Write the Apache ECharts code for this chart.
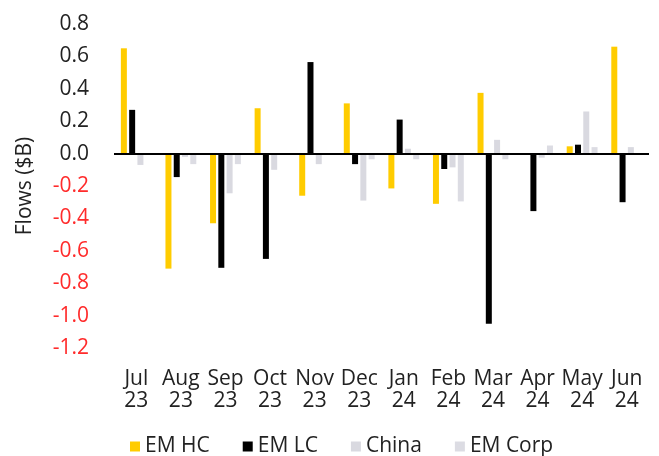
<!DOCTYPE html>
<html lang="en">
<head>
    <meta charset="UTF-8">
    <script src="https://cdn.jsdelivr.net/npm/echarts@6.0.0/dist/echarts.min.js"></script>
    <style type="text/css">
        html, body { margin: 0; padding: 0; background: #fff; }
        #chart { width: 659px; height: 456px; }
    </style>
    <title>Flows</title>
</head>
<body>
    <div id="chart"></div>
    <script>
        // months on the x axis
        var months = ['Jul\n23', 'Aug\n23', 'Sep\n23', 'Oct\n23', 'Nov\n23', 'Dec\n23',
                      'Jan\n24', 'Feb\n24', 'Mar\n24', 'Apr\n24', 'May\n24', 'Jun\n24'];

        // flows in $B
        var emHC   = [0.65, -0.71, -0.43, 0.28, -0.26, 0.31, -0.215, -0.31, 0.375, 0, 0.045, 0.66];
        var emLC   = [0.27, -0.145, -0.705, -0.65, 0.565, -0.065, 0.21, -0.095, -1.05, -0.355, 0.055, -0.30];
        var china  = [-0.07, -0.02, -0.245, -0.10, -0.065, -0.29, 0.03, -0.085, 0.085, -0.025, 0.26, 0.04];
        var emCorp = [0, -0.065, -0.065, 0, 0, -0.035, -0.035, -0.295, -0.035, 0.05, 0.04, 0];

        var font = 'Open Sans';
        var chart = echarts.init(document.getElementById('chart'));

        function bar(name, data, color) {
            return {
                name: name,
                type: 'bar',
                data: data,
                barWidth: 6,
                barGap: '38%',
                itemStyle: { color: color },
                animation: false
            };
        }

        var series = [
            bar('EM HC', emHC, '#ffcc00'),
            bar('EM LC', emLC, '#000000'),
            bar('China', china, '#d9d9e0'),
            bar('EM Corp', emCorp, '#dcdce3')
        ];
        // zero line across the plot
        series[0].markLine = {
            silent: true,
            symbol: 'none',
            label: { show: false },
            lineStyle: { color: '#000', width: 2, type: 'solid' },
            data: [{ yAxis: 0 }]
        };

        var option = {
            animation: false,
            grid: { left: 114, right: 10, top: 24, bottom: 108 },
            legend: {
                bottom: -6,
                left: 125,
                itemWidth: 10,
                itemHeight: 10,
                itemGap: 33,
                icon: 'rect',
                textStyle: { fontFamily: font, fontSize: 21, color: '#222' },
                data: ['EM HC', 'EM LC', 'China', 'EM Corp']
            },
            xAxis: {
                type: 'category',
                data: months,
                axisLine: { show: false, onZero: false },
                axisTick: { show: false },
                axisLabel: {
                    margin: 20,
                    interval: 0,
                    fontFamily: font,
                    fontSize: 21,
                    lineHeight: 22,
                    color: '#222'
                }
            },
            yAxis: {
                type: 'value',
                min: -1.2,
                max: 0.8,
                interval: 0.2,
                name: 'Flows ($B)',
                nameLocation: 'middle',
                nameGap: 78,
                nameTextStyle: { fontFamily: font, fontSize: 21, color: '#222' },
                splitLine: { show: false },
                axisLine: { show: false },
                axisTick: { show: false },
                axisLabel: {
                    margin: 25,
                    fontFamily: font,
                    fontSize: 21,
                    formatter: function (v) { return v.toFixed(1); },
                    color: function (v) { return v < 0 ? '#ff2b2b' : '#222'; }
                }
            },
            series: series
        };

        chart.setOption(option);
    </script>
</body>
</html>
